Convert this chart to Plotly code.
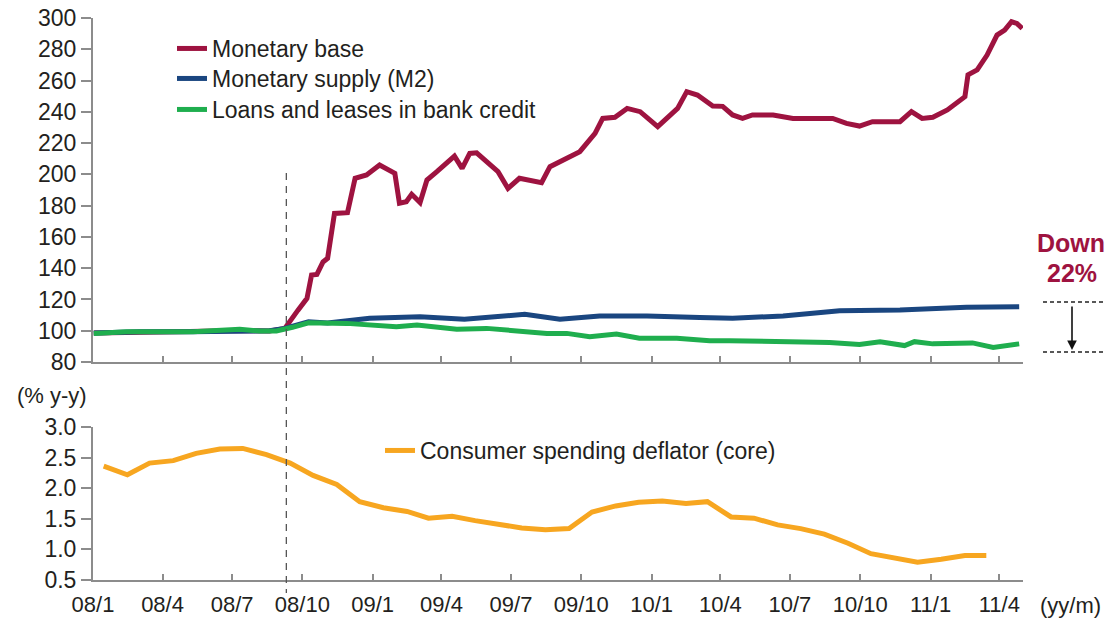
import pandas as pd
import plotly.graph_objects as go
from plotly.subplots import make_subplots

# ---- upper panel: indices (weekly readings) ----
mb_dates = [
    "2008-01-02", "2008-03-02", "2008-05-07", "2008-07-11", "2008-08-19", "2008-09-08",
    "2008-09-15", "2008-09-25", "2008-10-07", "2008-10-13", "2008-10-20", "2008-10-28",
    "2008-11-03", "2008-11-12", "2008-11-29", "2008-12-09", "2008-12-24", "2009-01-10",
    "2009-01-30", "2009-02-05", "2009-02-14", "2009-02-21", "2009-03-04", "2009-03-13",
    "2009-03-26", "2009-04-18", "2009-04-28", "2009-05-08", "2009-05-17", "2009-06-14",
    "2009-06-27", "2009-07-12", "2009-08-10", "2009-08-21", "2009-09-29", "2009-10-19",
    "2009-10-29", "2009-11-14", "2009-11-30", "2009-12-17", "2010-01-09", "2010-02-04",
    "2010-02-16", "2010-03-02", "2010-03-22", "2010-04-04", "2010-04-17", "2010-04-30",
    "2010-05-13", "2010-06-09", "2010-07-05", "2010-07-31", "2010-08-26", "2010-09-13",
    "2010-09-30", "2010-10-17", "2010-11-22", "2010-12-07", "2010-12-21", "2011-01-04",
    "2011-01-23", "2011-02-15", "2011-02-19", "2011-03-03", "2011-03-16", "2011-03-29",
    "2011-04-08", "2011-04-17", "2011-04-24", "2011-05-01",
]
mb_vals = [
    98.5, 99.3, 99.5, 100.2, 99.8, 101.5,
    105.8, 113.0, 120.7, 135.6, 136.0, 144.0,
    146.3, 175.0, 175.5, 197.5, 199.6, 206.0,
    200.7, 181.5, 182.5, 187.3, 182.0, 196.4,
    201.7, 211.7, 203.8, 213.4, 213.8, 201.7,
    191.0, 197.5, 194.7, 204.9, 214.5, 226.2,
    235.8, 236.5, 242.2, 240.1, 230.5, 242.2,
    252.9, 250.7, 243.7, 243.5, 238.0, 235.8,
    238.0, 238.0, 235.8, 235.8, 235.8, 232.6,
    230.9, 233.7, 233.7, 240.1, 235.8, 236.5,
    241.2, 249.7, 263.6, 266.8, 276.3, 289.1,
    292.3, 297.6, 296.5, 293.3,
]

m2_dates = [
    "2008-01-02", "2008-03-02", "2008-05-07", "2008-07-11", "2008-08-19", "2008-09-08",
    "2008-10-09", "2008-11-03", "2008-12-28", "2009-03-04", "2009-05-01", "2009-07-19",
    "2009-09-03", "2009-10-25", "2009-12-26", "2010-03-05", "2010-04-17", "2010-06-22",
    "2010-09-04", "2010-11-22", "2011-02-17", "2011-04-27",
]
m2_vals = [
    98.5, 99.3, 99.3, 99.5, 100.0, 101.5,
    105.8, 105.0, 108.0, 109.0, 107.3, 110.5,
    107.3, 109.4, 109.4, 108.5, 108.0, 109.4,
    112.8, 113.3, 115.0, 115.4,
]

loans_dates = [
    "2008-01-02", "2008-02-14", "2008-05-11", "2008-07-11", "2008-08-06", "2008-08-28",
    "2008-09-18", "2008-10-09", "2008-11-28", "2009-02-01", "2009-02-28", "2009-04-21",
    "2009-05-30", "2009-08-17", "2009-09-12", "2009-10-12", "2009-11-16", "2009-12-16",
    "2010-02-03", "2010-03-18", "2010-04-13", "2010-06-22", "2010-08-22", "2010-09-30",
    "2010-10-27", "2010-11-28", "2010-12-11", "2011-01-04", "2011-02-25", "2011-03-24",
    "2011-04-27",
]
loans_vals = [
    98.3, 99.4, 99.4, 100.9, 99.8, 99.8,
    102.2, 105.1, 104.7, 102.6, 103.7, 100.9,
    101.5, 98.3, 98.3, 96.2, 97.9, 95.2,
    95.2, 93.6, 93.6, 93.0, 92.5, 91.2,
    93.0, 90.5, 93.0, 91.6, 92.2, 89.3,
    91.6,
]

# ---- lower panel: core PCE deflator, % y/y (monthly) ----
pce_months = pd.date_range("2008-01-01", "2011-03-01", freq="MS") + pd.Timedelta(days=14)
pce_vals = [
    2.36, 2.22, 2.41, 2.45, 2.57, 2.64, 2.65, 2.55, 2.41, 2.21,
    2.06, 1.78, 1.68, 1.62, 1.51, 1.54, 1.47, 1.41, 1.35, 1.32,
    1.34, 1.61, 1.71, 1.77, 1.79, 1.75, 1.78, 1.53, 1.51, 1.40,
    1.34, 1.25, 1.10, 0.93, 0.85, 0.79, 0.84, 0.90, 0.90,
]

# quarterly ticks
tick_dates = pd.date_range("2008-01-01", "2011-04-01", freq="QS")
tick_text = [f"{d.year % 100:02d}/{d.month}" for d in tick_dates]

RED = "#9e1340"
BLUE = "#1a4680"
GREEN = "#1fae4e"
ORANGE = "#f7a620"
AXIS = "#8c8c8c"
INK = "#231f20"
FONT = "Liberation Sans, Arial, sans-serif"

W, H = 1112, 621
ML, MR, MT, MB = 93, 89, 18, 41
PW, PH = W - ML - MR, H - MT - MB


def px(x):
    return (x - ML) / PW


def py(y):
    return (H - MB - y) / PH


fig = make_subplots(rows=2, cols=1)

fig.add_trace(go.Scatter(x=mb_dates, y=mb_vals, mode="lines", name="Monetary base",
                         line=dict(color=RED, width=5), legend="legend"), row=1, col=1)
fig.add_trace(go.Scatter(x=m2_dates, y=m2_vals, mode="lines", name="Monetary supply (M2)",
                         line=dict(color=BLUE, width=5), legend="legend2"), row=1, col=1)
fig.add_trace(go.Scatter(x=loans_dates, y=loans_vals, mode="lines",
                         name="Loans and leases in bank credit",
                         line=dict(color=GREEN, width=5), legend="legend3"), row=1, col=1)
fig.add_trace(go.Scatter(x=pce_months, y=pce_vals, mode="lines",
                         name="Consumer spending deflator (core)",
                         line=dict(color=ORANGE, width=5), legend="legend4"), row=2, col=1)

x_range = ["2008-01-01", "2011-05-02"]
xcommon = dict(type="date", range=x_range, tickmode="array", tickvals=list(tick_dates),
               ticktext=tick_text, ticks="inside", ticklen=6, tickwidth=1.5, tickcolor=AXIS,
               showline=True, linecolor=AXIS, linewidth=2, showgrid=False, zeroline=False,
               automargin=False, tickfont=dict(family=FONT, size=22, color=INK))
fig.update_xaxes(**xcommon)
fig.update_xaxes(showticklabels=False, row=1, col=1)
fig.update_xaxes(showticklabels=True, ticklabelstandoff=4, row=2, col=1)

ycommon = dict(ticks="outside", ticklen=10, tickwidth=1.5, tickcolor=AXIS, showline=True,
               linecolor=AXIS, linewidth=2, showgrid=False, zeroline=False,
               automargin=False, tickfont=dict(family=FONT, size=23, color=INK))
fig.update_yaxes(**ycommon)
fig.update_yaxes(range=[80, 300], tickvals=list(range(80, 301, 20)),
                 domain=[py(362), 1.0], row=1, col=1)
fig.update_yaxes(range=[0.5, 3.0], tickvals=[0.5, 1.0, 1.5, 2.0, 2.5, 3.0], tickformat=".1f",
                 domain=[0.0, py(427)], row=2, col=1)

shapes = [
    # event marker across both panels
    dict(type="line", xref="x", yref="paper", x0="2008-09-10", x1="2008-09-10",
         y0=py(173), y1=py(593), line=dict(color="#555555", width=1.3, dash="7px,6px")),
    # bracket lines for the gap between M2 and loans
    dict(type="line", xref="paper", yref="paper", x0=px(1043), x1=px(1103),
         y0=py(302), y1=py(302), line=dict(color="#222222", width=1.5, dash="4px,3px")),
    dict(type="line", xref="paper", yref="paper", x0=px(1043), x1=px(1103),
         y0=py(352), y1=py(352), line=dict(color="#222222", width=1.5, dash="4px,3px")),
]

annotations = [
    dict(xref="paper", yref="paper", x=px(1072), y=py(350), ax=0, ay=-45, text="",
         showarrow=True, arrowhead=2, arrowsize=1.2, arrowwidth=1.6, arrowcolor="#111111"),
    dict(xref="paper", yref="paper", x=px(1071), y=py(243), text="<b>Down</b>",
         showarrow=False, xanchor="center", yanchor="middle",
         font=dict(family=FONT, size=25, color=RED)),
    dict(xref="paper", yref="paper", x=px(1072), y=py(273), text="<b>22%</b>",
         showarrow=False, xanchor="center", yanchor="middle",
         font=dict(family=FONT, size=25, color=RED)),
    dict(xref="paper", yref="paper", x=px(89), y=py(396), text="(% y-y)",
         showarrow=False, xanchor="right", yanchor="middle",
         font=dict(family=FONT, size=22, color=INK)),
    dict(xref="paper", yref="paper", x=px(1038), y=py(605), text="(yy/m)",
         showarrow=False, xanchor="left", yanchor="middle",
         font=dict(family=FONT, size=22, color=INK)),
]


def legend_at(x_left, y_center):
    # one single-entry legend, placed so its row sits at the given pixel row
    return dict(x=px(x_left), y=py(y_center - 23), xanchor="left", yanchor="top",
                font=dict(family=FONT, size=23, color=INK), bgcolor="rgba(0,0,0,0)",
                itemwidth=30)


fig.update_layout(
    width=W, height=H, margin=dict(l=ML, r=MR, t=MT, b=MB, autoexpand=False),
    paper_bgcolor="white", plot_bgcolor="white",
    shapes=shapes, annotations=annotations,
    legend=legend_at(172, 50),
    legend2=legend_at(172, 80),
    legend3=legend_at(172, 111),
    legend4=legend_at(380, 452),
    showlegend=True,
)

fig.write_html("out.html")
